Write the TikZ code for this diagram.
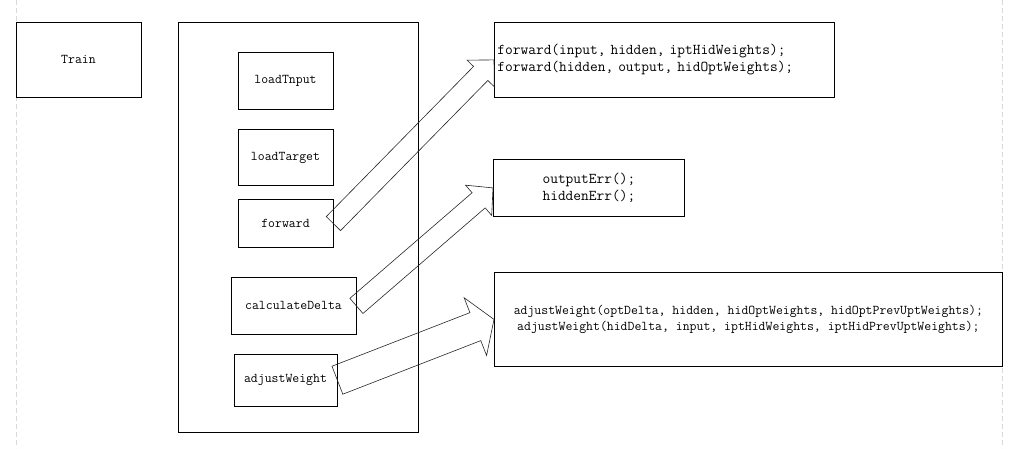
\documentclass[tikz,border=0pt]{standalone}
\usetikzlibrary{positioning,calc}

\newcommand{\blockarrow}[5]{%
  \coordinate (ba-h) at ($(#2)!#5!(#1)$);
  \draw[arrowline] ($(#1)!#3!90:(#2)$) -- ($(ba-h)!#3!90:(#2)$) -- ($(ba-h)!#4!90:(#2)$)
    -- (#2) -- ($(ba-h)!#4!-90:(#2)$) -- ($(ba-h)!#3!-90:(#2)$) -- ($(#1)!#3!-90:(#2)$) -- cycle;
}

\begin{document}
\begin{tikzpicture}[%
        x=1pt, y=-1pt,
        every node/.style={rectangle, inner sep=0pt, line width=0.8pt, font=\ttfamily\fontsize{13.4}{16}\selectfont},
        codebox/.style={font=\ttfamily\fontsize{15}{17}\selectfont},
        arrowline/.style={line width=0.6pt, black!85, line join=miter},
        pageline/.style={dash pattern=on 5pt off 3pt, black!15, line width=0.7pt},
        node distance=20pt
      ]
      \useasboundingbox (0,0) rectangle (1029,448);
      \draw[pageline] (16,0) -- (16,448);
      \draw[pageline] (1002,0) -- (1002,448);
      \node [draw] (train) [minimum width=125pt, minimum height=75pt] at (78.5,59.5) {Train};
      \node [draw] (steps) [minimum width=240pt, minimum height=410pt] at (298,227) {};
      \node [draw] (loadinput) [minimum width=95pt, minimum height=57pt, below=30pt of steps.north, xshift=-12.5pt] {loadTnput};
      \node [draw] (loadtarget) [minimum width=95pt, minimum height=56pt, below=of loadinput] {loadTarget};
      \node [draw] (forward) [minimum width=95pt, minimum height=48pt, below=13pt of loadtarget] {forward};
      \node [draw] (delta) [minimum width=125pt, minimum height=57pt, below=29pt of forward, xshift=8pt] {calculateDelta};
      \node [draw] (adjust) [minimum width=103pt, minimum height=52pt, below=19pt of delta, xshift=-8pt] {adjustWeight};
      \node [draw] (fwdcode) [codebox, anchor=north west, text width=334pt, inner xsep=3pt, align=left, minimum height=75pt] at (494,22)
        {forward(input, hidden, iptHidWeights);\\forward(hidden, output, hidOptWeights);};
      \node [draw] (errcode) [codebox, anchor=north west, align=center, minimum width=191pt, minimum height=57pt] at (493,159)
        {outputErr();\\hiddenErr();};
      \node [draw] (adjcode) [anchor=north west, align=center, minimum width=508pt, minimum height=94pt] at (494,272)
        {adjustWeight(optDelta, hidden, hidOptWeights, hidOptPrevUptWeights);\\adjustWeight(hidDelta, input, iptHidWeights, iptHidPrevUptWeights);};
      \blockarrow{forward.east}{fwdcode.west}{10pt}{19pt}{19pt}
      \blockarrow{delta.east}{errcode.west}{10pt}{20pt}{19pt}
      \blockarrow{adjust.east}{adjcode.west}{15pt}{31pt}{20pt}
    \end{tikzpicture}
\end{document}
